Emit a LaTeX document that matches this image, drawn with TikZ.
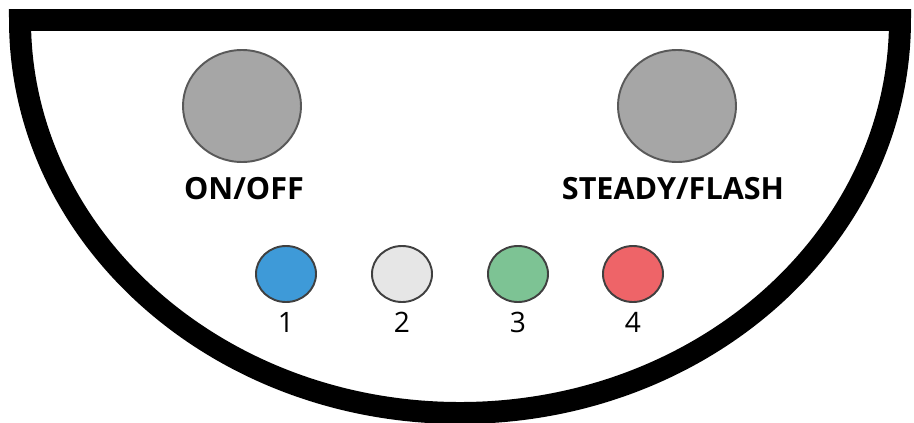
\documentclass[tikz,border=0pt]{standalone}
\usepackage{fontspec}
\setmainfont{Open Sans}
\usetikzlibrary{calc}

\definecolor{btngray}{HTML}{A6A6A6}
\definecolor{ledblue}{HTML}{3E9AD8}
\definecolor{ledwhite}{HTML}{E6E6E6}
\definecolor{ledgreen}{HTML}{7DC394}
\definecolor{ledred}{HTML}{EE6468}

\begin{document}
\begin{tikzpicture}[x=0.02cm, y=-0.02cm, every node/.style={font=\fontsize{16}{18}\selectfont},
	btn/.style={draw=black!65, line width=1.1pt, fill=btngray},
	led/.style={draw=black!75, line width=1.1pt},
	lbl/.style={font=\bfseries\fontsize{17.4}{19}\selectfont}]
	
	% parameters
	\def\rimrx{440}     % half width of the rim
	\def\rimry{393}     % depth of the rim below the top edge
	\def\rimw{12.5pt}   % rim thickness
	\def\btnrx{59}      % big button radii
	\def\btnry{56}
	\def\ledrx{30}      % led radii
	\def\ledry{28}
	
	\useasboundingbox (0,0) rectangle (914,423);
	\clip (0,0) rectangle (914,423);
	
	% rim
	\coordinate (TL) at (20,20);
	\coordinate (TR) at (900,20);
	\draw[line width=\rimw, miter limit=10] (TL) -- (TR)
	arc[start angle=0, end angle=180, x radius=\rimrx, y radius=\rimry] -- cycle;
	
	% big buttons
	\coordinate (ON) at (242,106);
	\coordinate (SF) at (677,106);
	\draw[btn] (ON) ellipse[x radius=\btnrx, y radius=\btnry];
	\draw[btn] (SF) ellipse[x radius=\btnrx, y radius=\btnry];
	\node[lbl] (onlabel) at (244,189) {ON/OFF};
	\node[lbl] (sflabel) at (673,189) {STEADY/FLASH};
	
	% leds
	\coordinate (L1) at (286,274);
	\coordinate (L2) at (402,274);
	\coordinate (L3) at (518,274);
	\coordinate (L4) at (633,274);
	\draw[led, fill=ledblue] (L1) ellipse[x radius=\ledrx, y radius=\ledry];
	\draw[led, fill=ledwhite] (L2) ellipse[x radius=\ledrx, y radius=\ledry];
	\draw[led, fill=ledgreen] (L3) ellipse[x radius=\ledrx, y radius=\ledry];
	\draw[led, fill=ledred] (L4) ellipse[x radius=\ledrx, y radius=\ledry];
	\node (n1) at ($(L1)+(0,48)$) {1};
	\node (n2) at ($(L2)+(0,48)$) {2};
	\node (n3) at ($(L3)+(0,48)$) {3};
	\node (n4) at ($(L4)+(0,48)$) {4};
\end{tikzpicture}
\end{document}
